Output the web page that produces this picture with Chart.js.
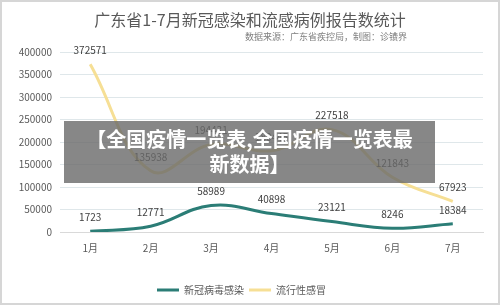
<!DOCTYPE html>
<html><head><meta charset="utf-8">
<script src="https://cdn.jsdelivr.net/npm/chart.js@4"></script>
<style>
html,body{margin:0;padding:0;background:#fff;}
#wrap{position:relative;width:500px;height:305px;overflow:hidden;font-family:"Noto Sans CJK SC","Noto Sans",sans-serif;}
#c{position:absolute;left:0;top:0;}
#title{position:absolute;left:0;width:500px;top:8px;text-align:center;font-size:16px;color:#595959;line-height:22px;}
#sub{position:absolute;right:93px;top:30px;font-size:9px;color:#7f7f7f;line-height:13px;}
#ov{position:absolute;left:64px;top:121px;width:371px;height:62px;background:rgba(105,105,105,0.8);color:#fff;font-weight:bold;font-size:20px;line-height:25px;text-align:center;padding-top:5px;box-sizing:border-box;}
#frame{position:absolute;left:0;top:0;width:500px;height:305px;box-sizing:border-box;border:2px solid #d6d6d6;pointer-events:none;}
</style></head>
<body><div id="wrap">
<canvas id="c" width="500" height="305"></canvas>
<div id="title">广东省1-7月新冠感染和流感病例报告数统计</div>
<div id="sub">数据来源：广东省疾控局，制图：诊镄界</div>
<div id="ov">【全国疫情一览表,全国疫情一览表最<br>新数据】</div>
<div id="frame"></div>
</div>
<script>
const months = ["1月","2月","3月","4月","5月","6月","7月"];
const covid = [1723, 12771, 58989, 40898, 23121, 8246, 18384];
const flu = [372571, 135938, 194431, 180445, 227518, 121843, 67923];
const seriesNames = ["新冠病毒感染", "流行性感冒"];
const yTicks = [0, 50000, 100000, 150000, 200000, 250000, 300000, 350000, 400000];

const FONT = '"Noto Sans CJK SC","Noto Sans",sans-serif';

const labelPlugin = {
  id: 'pointLabels',
  afterDatasetsDraw(chart) {
    const ctx = chart.ctx;
    ctx.save();
    ctx.font = '10px ' + FONT;
    ctx.fillStyle = '#404040';
    ctx.textAlign = 'center';
    ctx.textBaseline = 'middle';
    chart.data.datasets.forEach((ds, i) => {
      const meta = chart.getDatasetMeta(i);
      meta.data.forEach((pt, j) => {
        ctx.fillText(String(ds.data[j]), pt.x, pt.y - 14);
      });
    });
    ctx.restore();
  }
};

new Chart(document.getElementById('c'), {
  type: 'line',
  data: {
    labels: months,
    datasets: [
      { label: seriesNames[0], data: covid, borderColor: '#2b7d76', backgroundColor: '#2b7d76', borderWidth: 3, tension: 0.4, pointRadius: 0, fill: false },
      { label: seriesNames[1], data: flu, borderColor: '#f6df95', backgroundColor: '#f6df95', borderWidth: 3, tension: 0.4, pointRadius: 0, fill: false }
    ]
  },
  options: {
    responsive: false,
    animation: false,
    layout: { padding: { top: 52, right: 17, left: 0, bottom: 0 } },
    plugins: {
      legend: {
        position: 'bottom',
        labels: {
          font: { size: 10, family: FONT },
          color: '#595959',
          boxWidth: 22,
          boxHeight: 3,
          padding: 5,
          generateLabels(chart) {
            return chart.data.datasets.map((ds, i) => ({
              text: ds.label, fillStyle: ds.borderColor, strokeStyle: ds.borderColor,
              lineWidth: 0, datasetIndex: i, fontColor: '#595959'
            }));
          }
        }
      },
      tooltip: { enabled: false },
      title: { display: false }
    },
    scales: {
      x: {
        offset: true,
        grid: { display: false, drawTicks: false },
        border: { display: true, color: '#d9d9d9', width: 1 },
        ticks: { font: { size: 10, family: FONT }, color: '#595959', padding: 10 },
        afterFit(s) { s.height = 48; }
      },
      y: {
        min: 0, max: 400000,
        afterBuildTicks(s) { s.ticks = yTicks.map(v => ({ value: v })); },
        grid: { color: '#dfe7ea', drawTicks: false },
        border: { display: false },
        ticks: { font: { size: 10, family: FONT }, color: '#595959', padding: 8, callback: v => String(v) },
        afterFit(s) { s.width = 60; }
      }
    }
  },
  plugins: [labelPlugin]
});
</script>
</body></html>
